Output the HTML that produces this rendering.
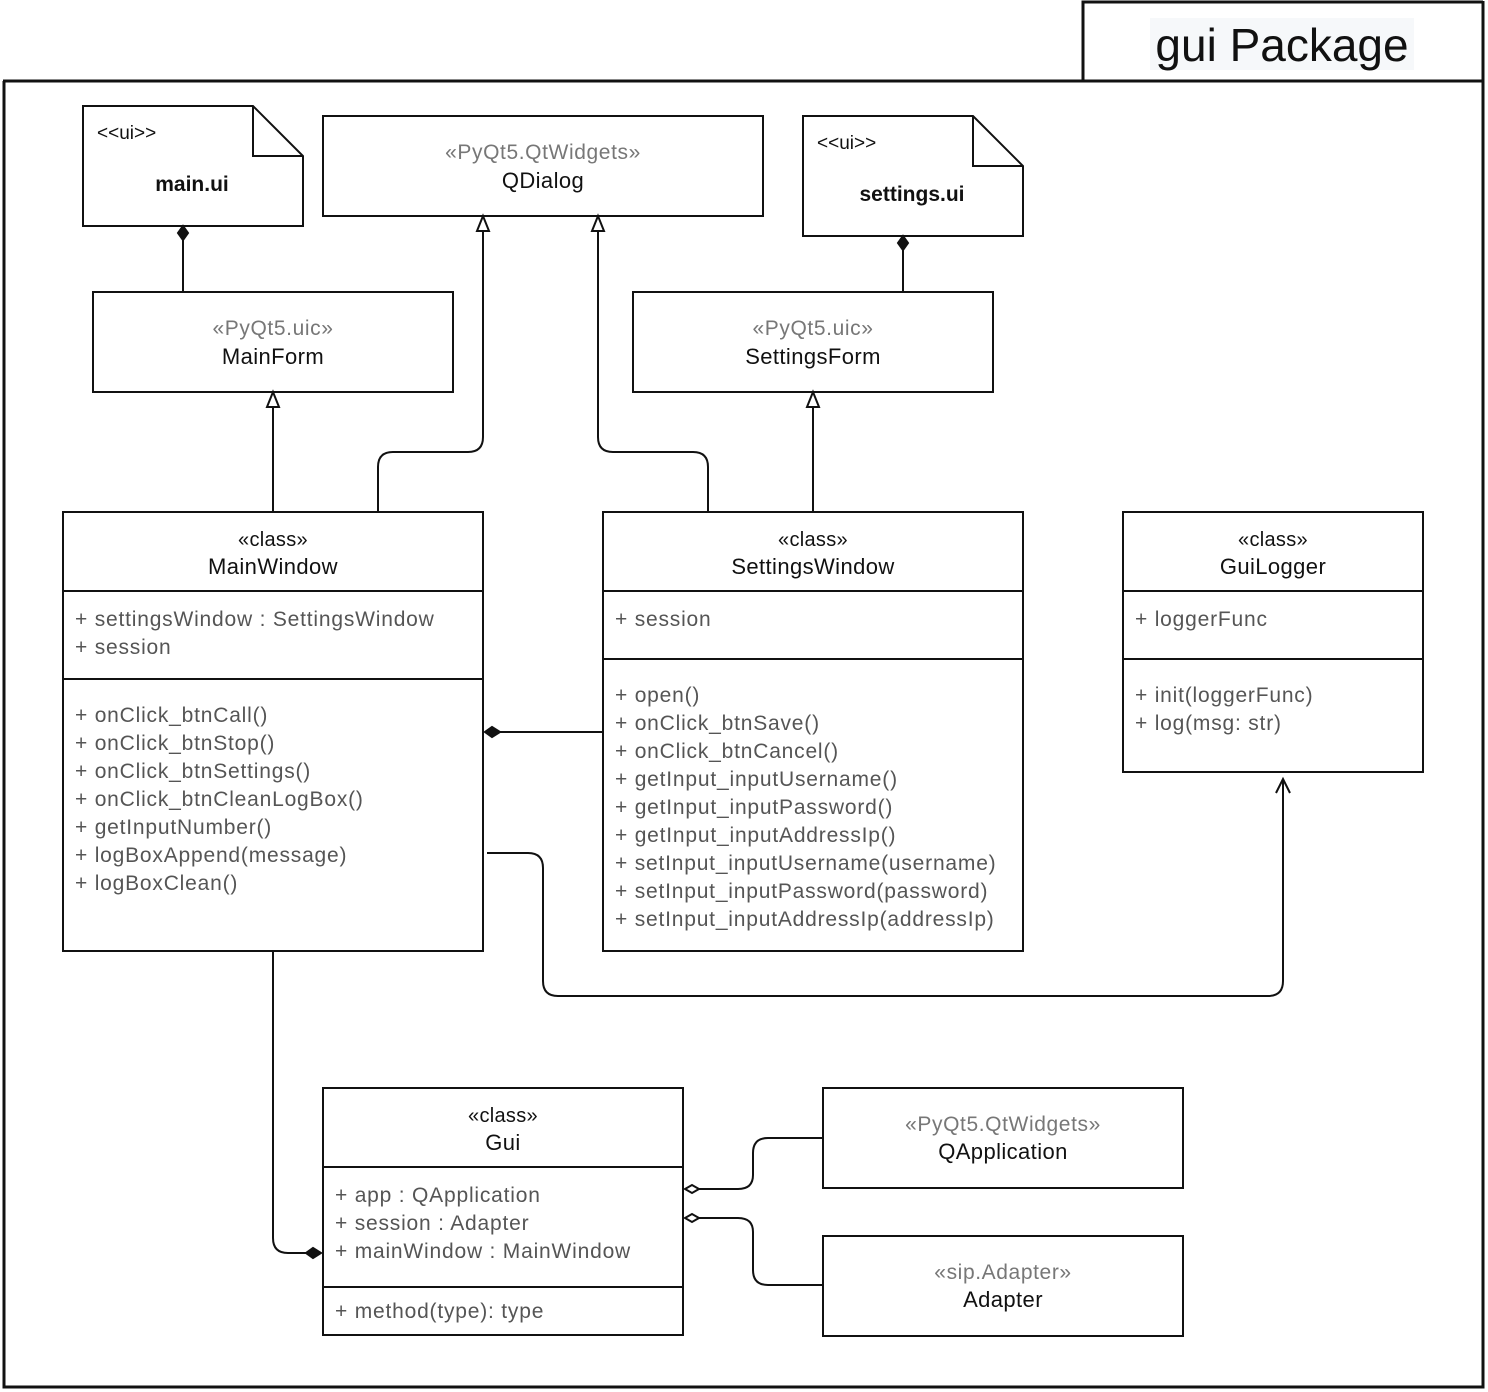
<!DOCTYPE html>
<html><head><meta charset="utf-8"><style>
html,body{margin:0;padding:0;background:#fff;}
svg{display:block;}
text{font-family:"Liberation Sans",sans-serif;}
.m{fill:#555;font-size:21px;letter-spacing:0.8px;}
.s{fill:#777;font-size:21px;letter-spacing:0.6px;}
.n{fill:#111;font-size:22px;letter-spacing:0.4px;}
.c{fill:#111;font-size:20px;letter-spacing:0.3px;}
</style></head><body>
<svg width="1488" height="1392" viewBox="0 0 1488 1392" xmlns="http://www.w3.org/2000/svg">
<g fill="none" stroke="#111" stroke-width="3">
<path d="M3 81 H1483 M4 81 V1387 H1483 V1 M1083 81 V2 H1483"/>
</g>
<rect x="1150" y="18" width="264" height="52" fill="#f6f8fa"/>
<text x="1282" y="61" text-anchor="middle" style="font-size:46px;fill:#111">gui Package</text>

<g fill="#fff" stroke="#111" stroke-width="2">
<path d="M83 106 H253 L303 156 V226 H83 Z"/><path d="M253 106 V156 H303" fill="none"/>
<path d="M803 116 H973 L1023 166 V236 H803 Z"/><path d="M973 116 V166 H1023" fill="none"/>
<rect x="323" y="116" width="440" height="100"/>
<rect x="93" y="292" width="360" height="100"/>
<rect x="633" y="292" width="360" height="100"/>
<rect x="63" y="512" width="420" height="439"/>
<rect x="603" y="512" width="420" height="439"/>
<rect x="1123" y="512" width="300" height="260"/>
<rect x="323" y="1088" width="360" height="247"/>
<rect x="823" y="1088" width="360" height="100"/>
<rect x="823" y="1236" width="360" height="100"/>
<path d="M63 591 H483 M63 679 H483 M603 591 H1023 M603 659 H1023 M1123 591 H1423 M1123 659 H1423 M323 1167 H683 M323 1287 H683" fill="none"/>
</g>

<g fill="none" stroke="#111" stroke-width="2">
<path d="M183 240 V292"/>
<path d="M903 250 V292"/>
<path d="M273 512 V407"/>
<path d="M813 512 V407"/>
<path d="M378 512 V467 Q378 452 393 452 H468 Q483 452 483 437 V231"/>
<path d="M708 512 V467 Q708 452 693 452 H613 Q598 452 598 437 V231"/>
<path d="M603 732 H500"/>
<path d="M487 853 H528 Q543 853 543 868 V981 Q543 996 558 996 H1268 Q1283 996 1283 981 V780"/>
<path d="M1276 793 L1283 779 L1290 793"/>
<path d="M273 951 V1238 Q273 1253 288 1253 H306"/>
<path d="M823 1138 H768 Q753 1138 753 1153 V1175 Q753 1189 738 1189 H699"/>
<path d="M823 1285 H768 Q753 1285 753 1270 V1232 Q753 1218 738 1218 H699"/>
</g>
<g stroke="#111" stroke-width="2">
<path d="M183 226 L188 233 L183 240 L178 233 Z" fill="#111"/>
<path d="M903 236 L908 243 L903 250 L898 243 Z" fill="#111"/>
<path d="M273 392 L279 407 L267 407 Z" fill="#fff"/>
<path d="M813 392 L819 407 L807 407 Z" fill="#fff"/>
<path d="M483 216 L489 231 L477 231 Z" fill="#fff"/>
<path d="M598 216 L604 231 L592 231 Z" fill="#fff"/>
<path d="M485 732 L492 727 L500 732 L492 737 Z" fill="#111"/>
<path d="M321 1253 L313 1248 L306 1253 L313 1258 Z" fill="#111"/>
<path d="M685 1189 L692 1185 L699 1189 L692 1193 Z" fill="#fff"/>
<path d="M685 1218 L692 1214 L699 1218 L692 1222 Z" fill="#fff"/>
</g>

<text x="97" y="139" style="font-size:19px;fill:#111">&lt;&lt;ui&gt;&gt;</text>
<text x="192" y="191" text-anchor="middle" style="font-size:21px;font-weight:bold;fill:#111">main.ui</text>
<text x="817" y="149" style="font-size:19px;fill:#111">&lt;&lt;ui&gt;&gt;</text>
<text x="912" y="201" text-anchor="middle" style="font-size:21px;font-weight:bold;fill:#111">settings.ui</text>

<text x="543" y="159" text-anchor="middle" class="s">«PyQt5.QtWidgets»</text>
<text x="543" y="188" text-anchor="middle" class="n">QDialog</text>
<text x="273" y="335" text-anchor="middle" class="s">«PyQt5.uic»</text>
<text x="273" y="364" text-anchor="middle" class="n">MainForm</text>
<text x="813" y="335" text-anchor="middle" class="s">«PyQt5.uic»</text>
<text x="813" y="364" text-anchor="middle" class="n">SettingsForm</text>

<text x="273" y="546" text-anchor="middle" class="c">«class»</text>
<text x="273" y="574" text-anchor="middle" class="n">MainWindow</text>
<text x="813" y="546" text-anchor="middle" class="c">«class»</text>
<text x="813" y="574" text-anchor="middle" class="n">SettingsWindow</text>
<text x="1273" y="546" text-anchor="middle" class="c">«class»</text>
<text x="1273" y="574" text-anchor="middle" class="n">GuiLogger</text>
<text x="503" y="1122" text-anchor="middle" class="c">«class»</text>
<text x="503" y="1150" text-anchor="middle" class="n">Gui</text>
<text x="1003" y="1131" text-anchor="middle" class="s">«PyQt5.QtWidgets»</text>
<text x="1003" y="1159" text-anchor="middle" class="n">QApplication</text>
<text x="1003" y="1279" text-anchor="middle" class="s">«sip.Adapter»</text>
<text x="1003" y="1307" text-anchor="middle" class="n">Adapter</text>

<g>
<text x="75" y="626" class="m">+ settingsWindow : SettingsWindow</text>
<text x="75" y="654" class="m">+ session</text>
<text x="75" y="722" class="m">+ onClick_btnCall()</text>
<text x="75" y="750" class="m">+ onClick_btnStop()</text>
<text x="75" y="778" class="m">+ onClick_btnSettings()</text>
<text x="75" y="806" class="m">+ onClick_btnCleanLogBox()</text>
<text x="75" y="834" class="m">+ getInputNumber()</text>
<text x="75" y="862" class="m">+ logBoxAppend(message)</text>
<text x="75" y="890" class="m">+ logBoxClean()</text>

<text x="615" y="626" class="m">+ session</text>
<text x="615" y="702" class="m">+ open()</text>
<text x="615" y="730" class="m">+ onClick_btnSave()</text>
<text x="615" y="758" class="m">+ onClick_btnCancel()</text>
<text x="615" y="786" class="m">+ getInput_inputUsername()</text>
<text x="615" y="814" class="m">+ getInput_inputPassword()</text>
<text x="615" y="842" class="m">+ getInput_inputAddressIp()</text>
<text x="615" y="870" class="m">+ setInput_inputUsername(username)</text>
<text x="615" y="898" class="m">+ setInput_inputPassword(password)</text>
<text x="615" y="926" class="m">+ setInput_inputAddressIp(addressIp)</text>

<text x="1135" y="626" class="m">+ loggerFunc</text>
<text x="1135" y="702" class="m">+ init(loggerFunc)</text>
<text x="1135" y="730" class="m">+ log(msg: str)</text>

<text x="335" y="1202" class="m">+ app : QApplication</text>
<text x="335" y="1230" class="m">+ session : Adapter</text>
<text x="335" y="1258" class="m">+ mainWindow : MainWindow</text>
<text x="335" y="1318" class="m">+ method(type): type</text>
</g>
</svg>
</body></html>
